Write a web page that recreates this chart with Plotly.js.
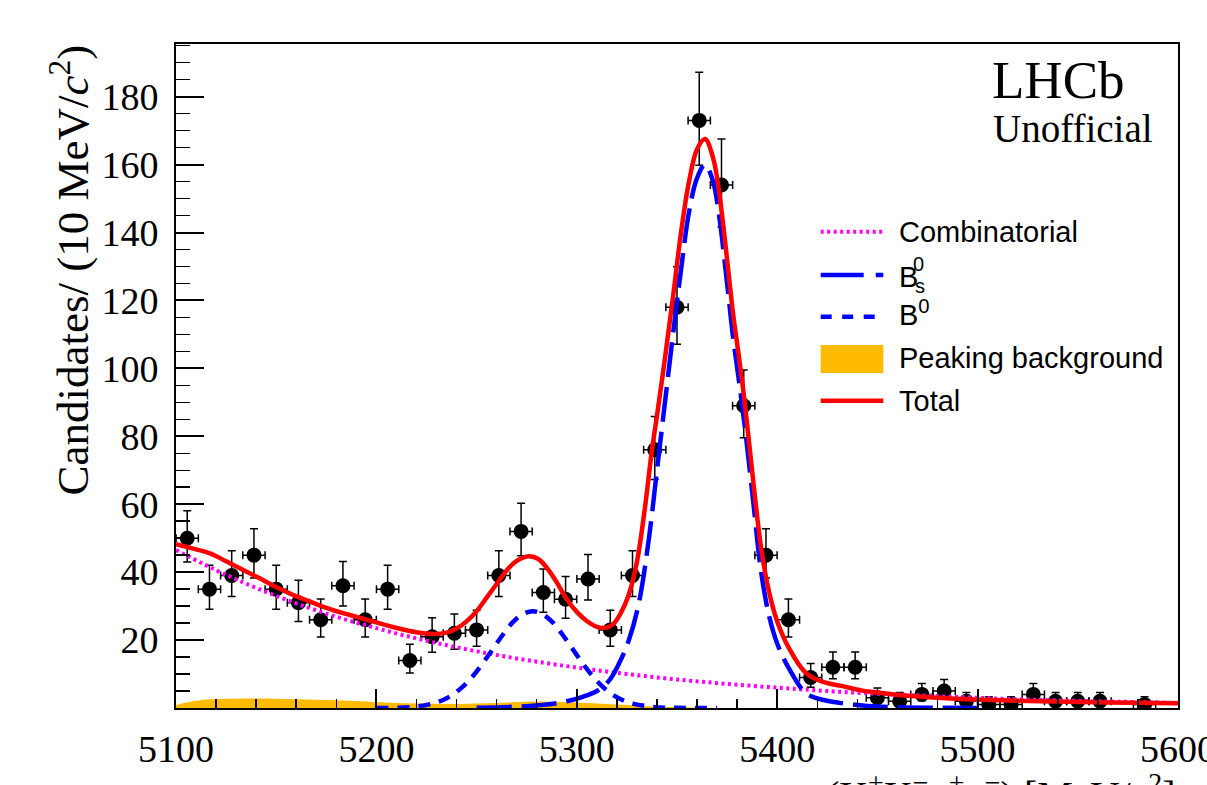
<!DOCTYPE html>
<html>
<head>
<meta charset="utf-8">
<script src="https://cdn.plot.ly/plotly-3.0.1.min.js"></script>
<style>
html,body{margin:0;padding:0;background:#fff;overflow:hidden;}
#chart{width:1207px;height:785px;}
</style>
</head>
<body>
<div id="chart"></div>
<script>
// ---- data points (bin centres, MeV/c^2) ----
const binX = [5105.6,5116.7,5127.8,5138.9,5150.0,5161.1,5172.2,5183.3,5194.4,5205.6,
              5216.7,5227.8,5238.9,5250.0,5261.1,5272.2,5283.3,5294.4,5305.6,5316.7,
              5327.8,5338.9,5350.0,5361.1,5372.2,5383.3,5394.4,5405.6,5416.7,5427.8,
              5438.9,5450.0,5461.1,5472.2,5483.3,5494.4,5505.6,5516.7,5527.8,5538.9,
              5550.0,5561.1,5583.3];
const counts = [50,35,39,45,35,31,26,36,26,35,
                14,21,22,23,39,52,34,32,38,23,
                39,76,118,173,154,89,45,26,9,12,
                12,3,2,4,5,2,1,1,4,2,
                2,2,1];
const errUp = [8.1,7.0,7.3,7.8,7.0,6.6,6.1,7.1,6.1,7.0,
               4.8,5.6,5.7,5.8,7.3,8.3,6.9,6.7,7.2,5.8,
               7.3,9.8,11.9,14.2,13.5,10.5,7.8,6.1,4.1,4.5,
               4.5,2.9,2.6,3.2,3.4,2.6,2.3,2.3,3.2,2.6,
               2.6,2.6,2.3];
const errDown = [7.0,5.9,6.2,6.7,5.9,5.5,5.1,6.0,5.1,5.9,
                 3.7,4.6,4.7,4.8,6.2,7.2,5.8,5.6,6.2,4.8,
                 6.2,8.7,10.9,13.2,12.4,9.4,6.7,5.1,2.9,3.4,
                 3.4,1.6,1.3,1.9,2.2,1.3,0.8,0.8,1.9,1.3,
                 1.3,1.3,0.8];
const binHalfWidth = 5.56;

// ---- fit components ----
const combX = [5100,5125,5150,5175,5200,5225,5250,5275,5300,5325,5350,5375,5400,5425,5450,5475,5500,5525,5550,5575,5600];
const combY = [46.5,39.2,33.0,27.8,23.5,19.8,16.7,14.1,11.9,10.0,8.4,7.1,6.0,5.0,4.2,3.6,3.0,2.5,2.1,1.8,1.5];

const bsX = [5250,5270,5285,5295,5303,5310,5316,5321,5326,5331,5336,5340,5344,5348,5352,5356,5360,5364,5368,5371,5375,5378,5381,5384,5388,5392,5396,5400,5406,5414,5420,5426,5435,5445,5460,5480,5500];
const bsY = [0.1,0.4,1.0,2.0,3.3,5.0,8.0,13,20,31,50,70,90,110,129,146,156,160,155,145,125,109,96,82,61,40,27,19,11.5,4.5,2.8,2.0,1.2,0.6,0.2,0.05,0];

const b0X = [5200,5218,5228,5233,5238,5243,5248,5253,5258,5263,5268,5273,5278,5283,5288,5293,5298,5303,5308,5313,5318,5323,5328,5338,5350,5370];
const b0Y = [0,0.3,1.3,2.3,3.9,6.2,9.3,13.1,17.3,21.5,25.2,27.6,28.5,27.6,25.2,21.5,17.3,13.1,9.3,6.2,3.9,2.3,1.3,0.3,0.05,0];

const pkX = [5100,5105,5112,5125,5140,5160,5180,5200,5220,5240,5260,5280,5300,5320,5340,5360,5380];
const pkY = [0.8,1.6,2.3,2.7,2.8,2.6,2.3,1.8,1.3,1.2,1.5,1.9,1.6,1.0,0.4,0.1,0];

const totX = [5100,5108,5117,5125,5133,5142,5150,5158,5167,5175,5183,5192,5200,5210,5220,5228,5235,5240,5245,5250,5255,5260,5265,5270,5276,5281,5286,5290,5295,5300,5305,5310,5314,5318,5322,5326,5330,5334,5337.5,5340,5344,5348,5352,5356,5360,5364,5368,5371,5375,5378,5381,5384,5388,5392,5396,5400,5406,5414,5420,5426,5432,5442,5448,5461,5480,5498,5531,5565,5600];
const totY = [48.2,47.0,45.5,43.2,40.8,38.1,35.6,33.4,31.3,29.5,28.0,26.5,25.2,23.6,22.3,21.8,22.2,23.4,25.5,28.5,32.5,36.5,40.5,43.3,44.7,43.8,40.5,37.0,32.0,28.3,25.6,23.9,23.6,24.6,28.0,33.5,43,59,76,86,103,121,140,155,164.5,167.5,162,152,132,116,103,89,67,47,34,25.5,17.5,10.5,8.3,7.2,6.5,5.2,4.7,3.8,3.0,2.5,2.0,1.6,1.4];

// ---- labels ----
const xTickVals = [5100,5200,5300,5400,5500,5600];
const yTickVals = [20,40,60,80,100,120,140,160,180];
const legendLabels = ['Combinatorial','B','B<sup>0</sup>','Peaking background','Total'];

const MAG='#ff00ff', BLUE='#0000ff', RED='#ff0000', ORANGE='#ffbb00';
const serif = 'Liberation Serif, Times New Roman, serif';
const sans = 'Liberation Sans, Arial, sans-serif';

const traces = [
  {type:'scatter', mode:'lines', x:pkX, y:pkY, fill:'tozeroy', fillcolor:ORANGE,
   line:{width:0, color:ORANGE, shape:'spline'}, name:'Peaking background', hoverinfo:'skip'},
  {type:'scatter', mode:'markers', x:binX, y:counts, name:'Data',
   marker:{color:'black', size:15},
   error_y:{type:'data', symmetric:false, array:errUp, arrayminus:errDown, color:'black', thickness:1.5, width:4},
   error_x:{type:'constant', value:binHalfWidth, color:'black', thickness:1.5, width:4}},
  {type:'scatter', mode:'lines', x:combX, y:combY, name:'Combinatorial',
   line:{color:MAG, width:4, dash:'3px,3.5px', shape:'spline'}},
  {type:'scatter', mode:'lines', x:b0X, y:b0Y, name:'B0',
   line:{color:BLUE, width:4.5, dash:'12px,9px', shape:'spline'}},
  {type:'scatter', mode:'lines', x:bsX, y:bsY, name:'Bs0',
   line:{color:BLUE, width:4.5, dash:'35px,10px', shape:'spline'}},
  {type:'scatter', mode:'lines', x:totX, y:totY, name:'Total',
   line:{color:RED, width:4.5, shape:'spline'}}
];

// pixel -> paper helpers for the hand-drawn legend
const L=176, R=1178, T=44, B=708;
const px = v => (v-L)/(R-L);
const py = v => (B-v)/(B-T);

const rowY = [231.7,275,316.7,358.3,400.7];
const symX0 = 820.7, symX1 = 883.3, txtX = 896.7;

const shapes = [
  {type:'line', xref:'paper', yref:'paper', x0:px(symX0), x1:px(symX1), y0:py(rowY[0]), y1:py(rowY[0]), line:{color:MAG, width:4, dash:'3px,3.5px'}},
  {type:'line', xref:'paper', yref:'paper', x0:px(symX0), x1:px(symX1), y0:py(rowY[1]), y1:py(rowY[1]), line:{color:BLUE, width:4.5, dash:'43px,12px'}},
  {type:'line', xref:'paper', yref:'paper', x0:px(symX0), x1:px(symX1), y0:py(rowY[2]), y1:py(rowY[2]), line:{color:BLUE, width:4.5, dash:'11px,10.5px'}},
  {type:'rect', xref:'paper', yref:'paper', x0:px(symX0), x1:px(symX1), y0:py(373), y1:py(345), fillcolor:ORANGE, line:{width:0}},
  {type:'line', xref:'paper', yref:'paper', x0:px(symX0), x1:px(symX1), y0:py(rowY[4]), y1:py(rowY[4]), line:{color:RED, width:4.5}}
];

const ann = [];
function addText(text, x, y, size, fam, xa, ya, extra){
  ann.push(Object.assign({xref:'paper', yref:'paper', x:x, y:y, text:text, showarrow:false,
    xanchor:xa, yanchor:ya, font:{family:fam, size:size, color:'black'}}, extra||{}));
}
addText(legendLabels[0], px(txtX), py(rowY[0]), 29, sans, 'left', 'middle');
addText(legendLabels[1], px(txtX), py(rowY[1]+2), 29, sans, 'left', 'middle');
addText('0', px(911), py(264), 20, sans, 'left', 'middle');
addText('s', px(913), py(286), 20, sans, 'left', 'middle');
addText(legendLabels[2], px(txtX), py(rowY[2]-4), 29, sans, 'left', 'middle');
addText(legendLabels[3], px(txtX), py(rowY[3]), 29, sans, 'left', 'middle');
addText(legendLabels[4], px(txtX), py(rowY[4]), 29, sans, 'left', 'middle');

addText('LHCb', px(990), py(80), 53, serif, 'left', 'middle');
addText('Unofficial', px(991), py(128), 39, serif, 'left', 'middle');

// y-axis title
addText('Candidates/ (10 MeV/<i>c</i><sup>2</sup>)', 0, 1, 45, serif, 'center', 'top',
        {textangle:-90, xshift:-106, yshift:1});
// x-axis title (cut by the bottom edge as in the reference)
addText('<i>m</i>(K<sup>+</sup>K<sup>−</sup>π<sup>+</sup>π<sup>−</sup>) [MeV/<i>c</i><sup>2</sup>]', 1, 0, 40, serif, 'right', 'top',
        {yshift:-57});

const layout = {
  width:1207, height:785,
  margin:{l:L, r:1207-R, t:T, b:785-B, pad:0},
  paper_bgcolor:'white', plot_bgcolor:'white',
  showlegend:false,
  xaxis:{range:[5100,5600], showline:true, linecolor:'black', linewidth:2, mirror:true,
         ticks:'inside', ticklen:19, tickwidth:2, tickcolor:'black',
         tickmode:'array', tickvals:xTickVals, ticktext:xTickVals.map(String),
         minor:{ticks:'inside', ticklen:9, tickwidth:1.5, tickcolor:'black', tickmode:'linear', tick0:5100, dtick:20},
         showgrid:false, zeroline:false, ticklabelstandoff:6, ticklabeloverflow:'allow',
         tickfont:{family:serif, size:38, color:'black'}},
  yaxis:{range:[0,195.5], showline:true, linecolor:'black', linewidth:2, mirror:true,
         ticks:'inside', ticklen:28, tickwidth:2, tickcolor:'black',
         tickmode:'array', tickvals:yTickVals, ticktext:yTickVals.map(String),
         minor:{ticks:'inside', ticklen:14, tickwidth:1.5, tickcolor:'black', tickmode:'linear', tick0:0, dtick:5},
         showgrid:false, zeroline:false, ticklabelstandoff:8, ticklabeloverflow:'allow',
         tickfont:{family:serif, size:38, color:'black'}},
  shapes:shapes,
  annotations:ann
};

Plotly.newPlot('chart', traces, layout, {displayModeBar:false, staticPlot:true});
</script>
</body>
</html>
